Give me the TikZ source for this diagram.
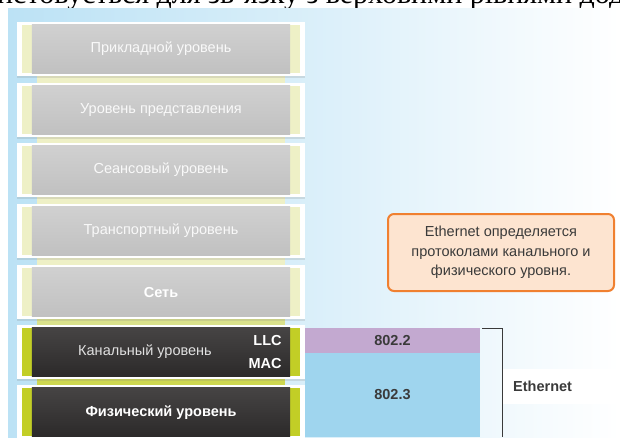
\documentclass[tikz,border=0pt]{standalone}
\usepackage{fontspec}
\setmainfont{Liberation Sans}
\newfontfamily\serifcyr{Liberation Serif}
\usetikzlibrary{shadows}
\definecolor{panelblue}{RGB}{188,226,245}
\definecolor{paleyel}{RGB}{238,240,198}
\definecolor{limeg}{RGB}{194,206,38}
\definecolor{limepale}{RGB}{218,226,140}
\definecolor{graybody}{RGB}{203,203,203}
\definecolor{darktop}{RGB}{70,68,68}
\definecolor{darkbot}{RGB}{44,42,42}
\definecolor{lav}{RGB}{195,169,208}
\definecolor{skyb}{RGB}{159,213,238}
\definecolor{txtdark}{RGB}{58,58,58}
\definecolor{calloutor}{RGB}{240,128,48}
\definecolor{peach}{RGB}{253,228,208}
\tikzset{
  outerbox/.style={fill=white, minimum width=288pt, minimum height=54pt, inner sep=0pt,
    drop shadow={shadow xshift=0pt, shadow yshift=-1.5pt, opacity=0.2}},
  lighttext/.style={text=white!95!gray, font=\fontsize{14.5}{17}\selectfont},
  boldlight/.style={text=white, font=\bfseries\fontsize{14.5}{17}\selectfont},
  stdlabel/.style={text=txtdark, font=\bfseries\fontsize{14.5}{17}\selectfont},
}
\newcommand\osilayer[5]{% name, top y, stripe colour, body style, text style+text
  \node[outerbox] (#1) at (161,{#2+27}) {};
  \fill[#3] ([xshift=5pt,yshift=-3pt]#1.north west) rectangle ([xshift=-5pt,yshift=3pt]#1.south east);
  \shade[#4] ([xshift=15pt,yshift=-3pt]#1.north west) rectangle ([xshift=-15pt,yshift=3pt]#1.south east);
  \node[#5] (#1t) at (#1.center)}
\begin{document}
\begin{tikzpicture}[x=1pt,y=-1pt]
\useasboundingbox (0,0) rectangle (620,437);
\begin{scope}
\clip (0,0) rectangle (620,437);
\fill[white] (0,0) rectangle (620,437);
\node[anchor=base west, inner sep=0pt, text=black, font=\serifcyr\fontsize{30}{32}\selectfont] (cap) at (-3,3) {истовується для зв’язку з верховими рівнями дод};
\shade[left color=panelblue, right color=white, middle color=panelblue!55!white] (8,8) rectangle (620,437);
% column behind the layers
\fill[paleyel] (37,22) rectangle (285,318);
\fill[limepale] (37,318) rectangle (285,325);
\fill[limeg!80!white] (37,325) rectangle (285,437);
% layers
\osilayer{l7}{22}{paleyel}{top color=graybody!90!white, bottom color=graybody!95!black}{lighttext} {Прикладной уровень};
\osilayer{l6}{83}{paleyel}{top color=graybody!90!white, bottom color=graybody!95!black}{lighttext} {Уровень представления};
\osilayer{l5}{143}{paleyel}{top color=graybody!90!white, bottom color=graybody!95!black}{lighttext} {Сеансовый уровень};
\osilayer{l4}{204}{paleyel}{top color=graybody!90!white, bottom color=graybody!95!black}{lighttext} {Транспортный уровень};
\osilayer{l3}{265}{paleyel}{top color=graybody!90!white, bottom color=graybody!95!black}{boldlight} {Сеть};
\osilayer{l2}{325}{limeg}{top color=darktop, bottom color=darkbot}{lighttext, text=white!88!black, xshift=-16pt} {Канальный уровень};
\osilayer{l1}{385}{limeg}{top color=darktop, bottom color=darkbot}{boldlight, yshift=-1pt} {Физический уровень};
\node[boldlight, anchor=east] (llc) at ([xshift=-20pt,yshift=12pt]l2.east) {LLC};
\node[boldlight, anchor=east] (mac) at ([xshift=-20pt,yshift=-11pt]l2.east) {MAC};
% standards
\node[fill=lav, minimum width=175pt, minimum height=25pt, inner sep=0pt, stdlabel] (s8022) at (392.5,340.5) {802.2};
\node[fill=skyb, minimum width=175pt, minimum height=84pt, inner sep=0pt, stdlabel] (s8023) at (392.5,395) {802.3};
% bracket
\coordinate (bt1) at (482,328);
\coordinate (bt2) at (502,328);
\coordinate (bb) at (502,437);
\draw[txtdark, line width=1pt] (bt1) -- (bt2) -- (bb);
\node[fill=white, anchor=west, text width=97pt, inner xsep=10pt, minimum height=35pt, align=left, stdlabel] (eth) at (503,386.5) {Ethernet};
% callout
\node[draw=calloutor, line width=2pt, fill=peach, rounded corners=6pt, minimum width=226pt, minimum height=77pt, align=center, text=txtdark, font=\fontsize{14.5}{19.5}\selectfont] (callout) at (501,252.5) {Ethernet определяется\\протоколами канального и\\физического уровня.};
\end{scope}
\end{tikzpicture}
\end{document}
